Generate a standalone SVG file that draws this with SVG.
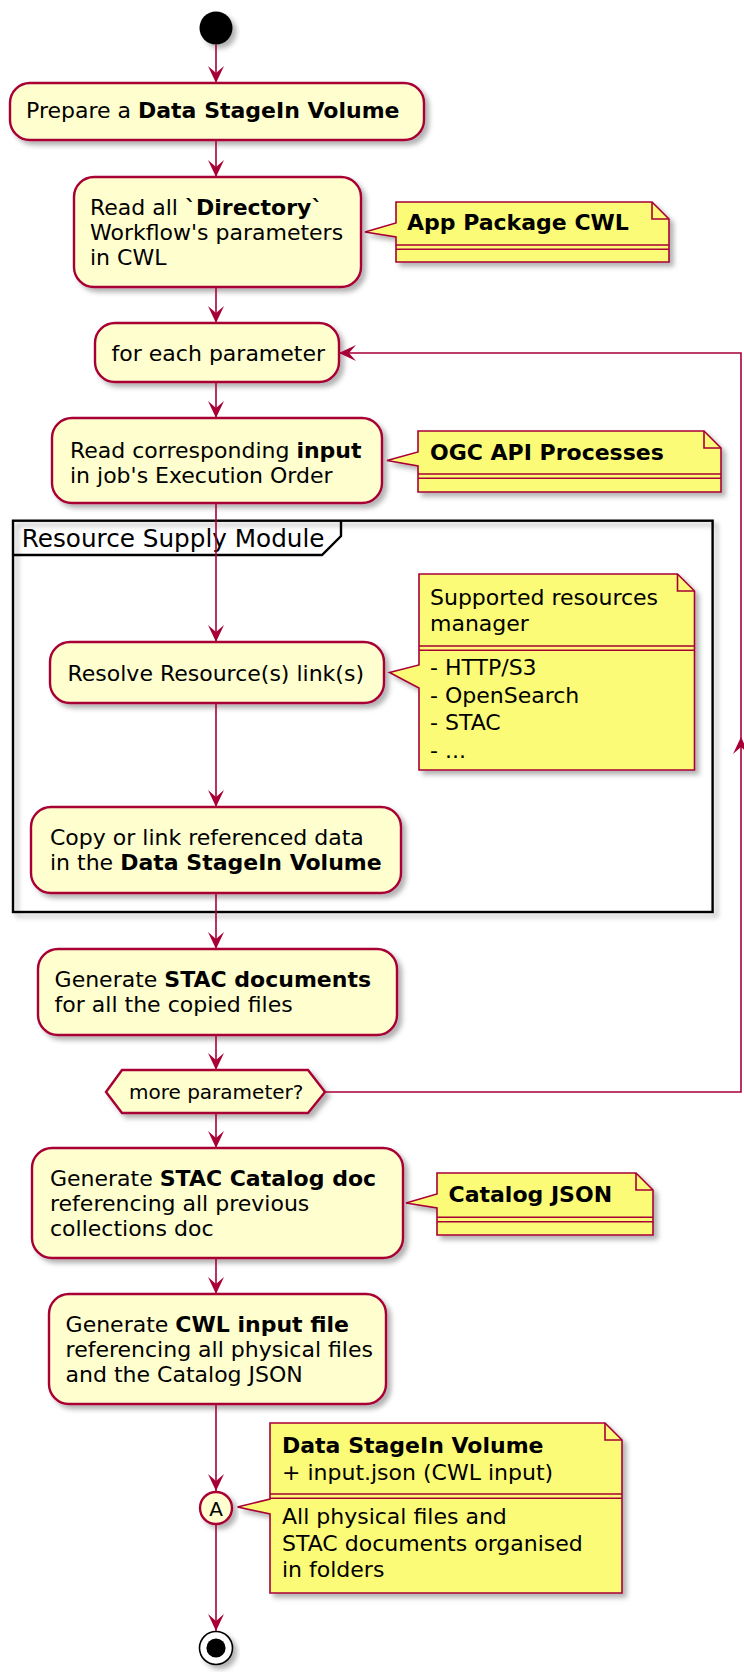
<svg xmlns="http://www.w3.org/2000/svg" width="744" height="1672" viewBox="0 0 744 1672">
<defs>
  <filter id="shadow" x="-10%" y="-10%" width="130%" height="140%">
    <feGaussianBlur in="SourceAlpha" stdDeviation="2.5"/>
    <feOffset dx="4" dy="4" result="off"/>
    <feFlood flood-color="#000" flood-opacity="0.3"/>
    <feComposite in2="off" operator="in" result="sh"/>
    <feMerge><feMergeNode in="sh"/><feMergeNode in="SourceGraphic"/></feMerge>
  </filter>
  <marker id="head" markerUnits="userSpaceOnUse" viewBox="-18 -9 19 18" markerWidth="19" markerHeight="18" refX="0" refY="0" orient="auto">
    <path d="M0,0 L-17,-8 L-10,0 L-17,8 Z" fill="#A80036"/>
  </marker>
</defs>
<style>
  .act{fill:#FEFECE;stroke:#A80036;stroke-width:2.4}
  .note{fill:#FBFB77;stroke:#A80036;stroke-width:1.6}
  .sep{fill:none;stroke:#A80036;stroke-width:1.6}
  .t{font-family:"DejaVu Sans","Liberation Sans",sans-serif;font-size:22px;fill:#000}
  .b{font-weight:bold}
  .flow{fill:none;stroke:#A80036;stroke-width:1.6}
  .flow.end{marker-end:url(#head)}
</style>
<rect width="744" height="1672" fill="#fff"/>

<!-- partition frame -->
<g id="resource-supply-module">
  <rect x="13" y="520.7" width="699.6" height="391.3" fill="none" stroke="#000" stroke-width="2.4" filter="url(#shadow)"/>
  <path d="M13,555 H322 L341,536 V520.7" fill="none" stroke="#000" stroke-width="2.4"/>
  <text class="t" x="21.7" y="546.7" style="font-size:24.7px">Resource Supply Module</text>
</g>

<g id="start"><circle cx="216" cy="28" r="16.5" fill="#000" filter="url(#shadow)"/></g>

<g id="prepare-volume">
  <rect class="act" x="10" y="83" width="414" height="57" rx="20" filter="url(#shadow)"/>
  <text class="t" x="26" y="118">Prepare a <tspan class="b">Data StageIn Volume</tspan></text>
</g>

<g id="read-directory-params">
  <rect class="act" x="74" y="177" width="287" height="110" rx="20" filter="url(#shadow)"/>
  <text class="t" x="90" y="214.5">Read all <tspan class="b">`Directory`</tspan></text>
  <text class="t" x="90" y="239.5">Workflow's parameters</text>
  <text class="t" x="90" y="264.5">in CWL</text>
</g>

<g id="note-app-package">
  <path class="note" d="M396,202 H652 L669,219 V262 H396 V237 L365,232 L396,223 Z" filter="url(#shadow)"/>
  <path class="sep" d="M652,202 V219 H669"/>
  <text class="t b" x="407" y="230">App Package CWL</text>
  <path class="sep" d="M396,245 H669 M396,249.3 H669"/>
</g>

<g id="for-each-parameter">
  <rect class="act" x="95" y="323" width="244" height="59" rx="20" filter="url(#shadow)"/>
  <text class="t" x="111.6" y="360.7">for each parameter</text>
</g>

<g id="read-input">
  <rect class="act" x="52" y="418" width="330" height="85" rx="20" filter="url(#shadow)"/>
  <text class="t" x="70" y="457.5">Read corresponding <tspan class="b">input</tspan></text>
  <text class="t" x="70" y="482.5">in job's Execution Order</text>
</g>

<g id="note-ogc">
  <path class="note" d="M418,431 H704 L721,448 V492 H418 V466 L387,460.5 L418,452 Z" filter="url(#shadow)"/>
  <path class="sep" d="M704,431 V448 H721"/>
  <text class="t b" x="430" y="459.5">OGC API Processes</text>
  <path class="sep" d="M418,474 H721 M418,478.3 H721"/>
</g>

<g id="resolve-links">
  <rect class="act" x="50" y="642" width="334" height="61" rx="20" filter="url(#shadow)"/>
  <text class="t" x="67.5" y="680.7">Resolve Resource(s) link(s)</text>
</g>

<g id="note-resources-manager">
  <path class="note" d="M419,574 H677.5 L694.5,591 V770 H419 V688 L389.5,672.5 L419,665 Z" filter="url(#shadow)"/>
  <path class="sep" d="M677.5,574 V591 H694.5"/>
  <text class="t" x="430" y="604.5">Supported resources</text>
  <text class="t" x="430" y="630.5">manager</text>
  <path class="sep" d="M419,646 H694.5 M419,650.3 H694.5"/>
  <text class="t" x="430" y="675">- HTTP/S3</text>
  <text class="t" x="430" y="702.5">- OpenSearch</text>
  <text class="t" x="430" y="730">- STAC</text>
  <text class="t" x="430" y="757.5">- ...</text>
</g>

<g id="copy-data">
  <rect class="act" x="31" y="807" width="370" height="86" rx="20" filter="url(#shadow)"/>
  <text class="t" x="50" y="845">Copy or link referenced data</text>
  <text class="t" x="50" y="870">in the <tspan class="b">Data StageIn Volume</tspan></text>
</g>

<g id="generate-stac-docs">
  <rect class="act" x="38" y="949" width="359" height="86" rx="20" filter="url(#shadow)"/>
  <text class="t" x="54.6" y="986.7">Generate <tspan class="b">STAC documents</tspan></text>
  <text class="t" x="54.6" y="1011.7">for all the copied files</text>
</g>

<g id="more-parameter">
  <polygon class="act" points="106,1092 122,1070 308,1070 325,1092 308,1113 122,1113" filter="url(#shadow)"/>
  <text class="t" x="129" y="1099" style="font-size:20px">more parameter?</text>
</g>

<g id="generate-catalog">
  <rect class="act" x="32" y="1148" width="371" height="110" rx="20" filter="url(#shadow)"/>
  <text class="t" x="50" y="1186">Generate <tspan class="b">STAC Catalog doc</tspan></text>
  <text class="t" x="50" y="1211">referencing all previous</text>
  <text class="t" x="50" y="1236">collections doc</text>
</g>

<g id="note-catalog">
  <path class="note" d="M437,1173 H636 L653,1190 V1235 H437 V1208 L406,1203 L437,1194 Z" filter="url(#shadow)"/>
  <path class="sep" d="M636,1173 V1190 H653"/>
  <text class="t b" x="448.5" y="1201.5">Catalog JSON</text>
  <path class="sep" d="M437,1217.3 H653 M437,1221.7 H653"/>
</g>

<g id="generate-cwl-input">
  <rect class="act" x="49" y="1294" width="337" height="110" rx="20" filter="url(#shadow)"/>
  <text class="t" x="65.6" y="1332">Generate <tspan class="b">CWL input file</tspan></text>
  <text class="t" x="65.6" y="1357">referencing all physical files</text>
  <text class="t" x="65.6" y="1382">and the Catalog JSON</text>
</g>

<g id="connector-a">
  <circle class="act" cx="216" cy="1508" r="16" filter="url(#shadow)"/>
  <text class="t" x="216" y="1515.5" text-anchor="middle" style="font-size:20px">A</text>
</g>

<g id="note-stagein-volume">
  <path class="note" d="M270,1423 H605 L622,1440 V1593 H270 V1514 L237.5,1507 L270,1499 Z" filter="url(#shadow)"/>
  <path class="sep" d="M605,1423 V1440 H622"/>
  <text class="t b" x="282" y="1453.3">Data StageIn Volume</text>
  <text class="t" x="282" y="1480">+ input.json (CWL input)</text>
  <path class="sep" d="M270,1494 H622 M270,1498.3 H622"/>
  <text class="t" x="282" y="1524">All physical files and</text>
  <text class="t" x="282" y="1550.7">STAC documents organised</text>
  <text class="t" x="282" y="1577.3">in folders</text>
</g>

<g id="stop">
  <circle cx="216" cy="1648" r="16.5" fill="#fff" stroke="#000" stroke-width="1.6" filter="url(#shadow)"/>
  <circle cx="216" cy="1648" r="9.6" fill="#000"/>
</g>

<!-- control flow -->
<g id="connectors">
  <path class="flow end" d="M216,44.5 V83"/>
  <path class="flow end" d="M216,140 V177"/>
  <path class="flow end" d="M216,287 V323"/>
  <path class="flow end" d="M216,382 V418"/>
  <path class="flow end" d="M216,503 V642"/>
  <path class="flow end" d="M216,703 V807"/>
  <path class="flow end" d="M216,893 V949"/>
  <path class="flow end" d="M216,1035 V1070"/>
  <path class="flow end" d="M216,1113 V1148"/>
  <path class="flow end" d="M216,1258 V1294"/>
  <path class="flow end" d="M216,1404 V1491"/>
  <path class="flow end" d="M216,1524 V1631"/>
  <path class="flow end" d="M325,1092 H741 V737"/>
  <path class="flow end" d="M741,737 V353 H339"/>
</g>
</svg>
